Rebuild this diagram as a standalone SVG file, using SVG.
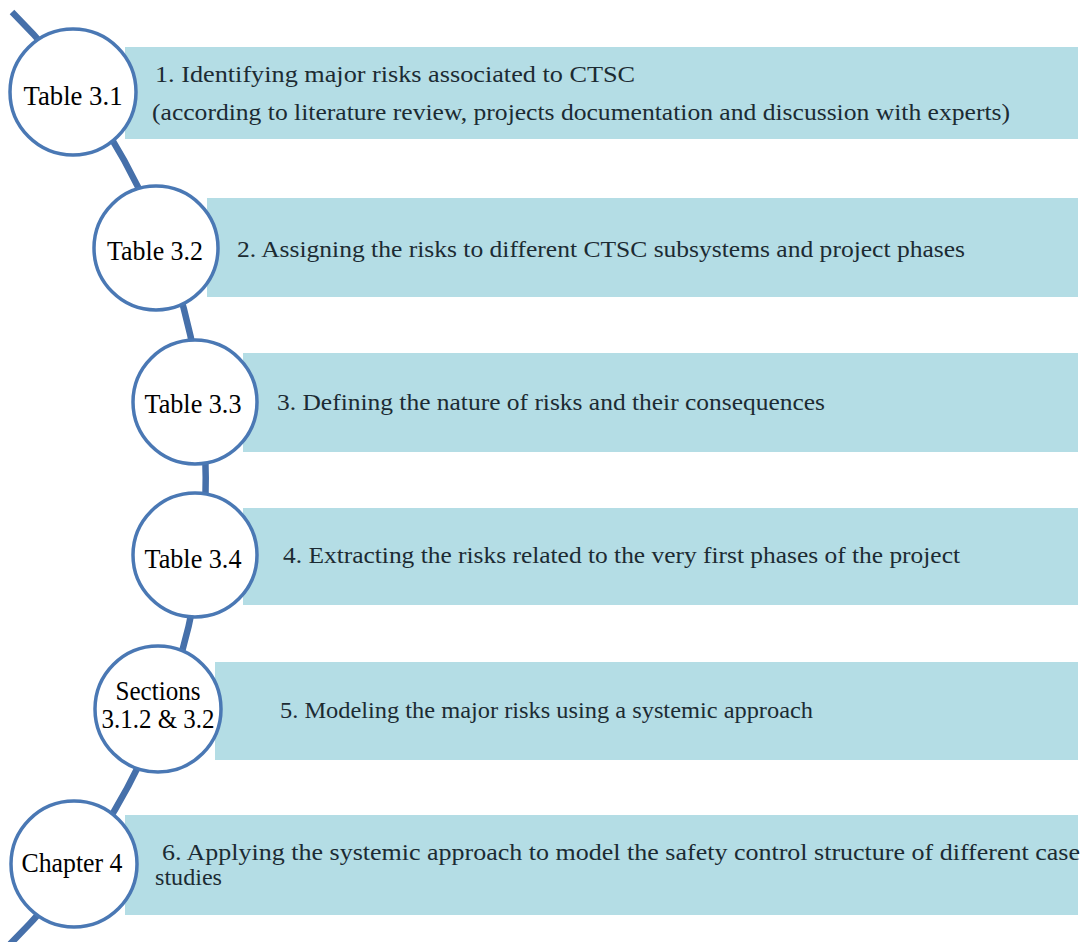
<svg xmlns="http://www.w3.org/2000/svg" width="1083" height="942" viewBox="0 0 1083 942">
<style>
.bar{fill:#b4dde5}
.c{fill:#ffffff;stroke:#4a78b4;stroke-width:3.5}
.lbl{font-size:27px;fill:#000;text-anchor:middle}
.t{font-size:23.5px;fill:#1c2b33}
</style>
<rect width="1083" height="942" fill="#ffffff"/>
<g id="bars">
<rect class="bar" x="125" y="47" width="953" height="92"/>
<rect class="bar" x="207" y="198" width="871" height="99"/>
<rect class="bar" x="243" y="353" width="835" height="99"/>
<rect class="bar" x="243" y="508" width="835" height="97"/>
<rect class="bar" x="215" y="662" width="863" height="98"/>
<rect class="bar" x="125" y="815" width="953" height="100"/>
</g>
<g id="connectors">
<path d="M 12 12 A 655 655 0 0 1 10 944" fill="none" stroke="#4670aa" stroke-width="6.5"/>
</g>
<g font-family="Liberation Serif, DejaVu Serif, serif">
<g id="n1">
<circle class="c" cx="73" cy="92" r="63"/>
<text class="lbl" x="73" y="105" textLength="99" lengthAdjust="spacingAndGlyphs">Table 3.1</text>
<text class="t" x="155" y="82" textLength="480" lengthAdjust="spacingAndGlyphs">1. Identifying major risks associated to CTSC</text>
<text class="t" x="152" y="120" textLength="858" lengthAdjust="spacingAndGlyphs">(according to literature review, projects documentation and discussion with experts)</text>
</g>
<g id="n2">
<circle class="c" cx="156" cy="248" r="62"/>
<text class="lbl" x="155" y="260" textLength="96" lengthAdjust="spacingAndGlyphs">Table 3.2</text>
<text class="t" x="237" y="257" textLength="728" lengthAdjust="spacingAndGlyphs">2. Assigning the risks to different CTSC subsystems and project phases</text>
</g>
<g id="n3">
<circle class="c" cx="195" cy="402" r="62"/>
<text class="lbl" x="193" y="413" textLength="97" lengthAdjust="spacingAndGlyphs">Table 3.3</text>
<text class="t" x="277" y="410" textLength="548" lengthAdjust="spacingAndGlyphs">3. Defining the nature of risks and their consequences</text>
</g>
<g id="n4">
<circle class="c" cx="195" cy="555" r="62"/>
<text class="lbl" x="193" y="568" textLength="97" lengthAdjust="spacingAndGlyphs">Table 3.4</text>
<text class="t" x="283" y="563" textLength="677" lengthAdjust="spacingAndGlyphs">4. Extracting the risks related to the very first phases of the project</text>
</g>
<g id="n5">
<circle class="c" cx="158" cy="709" r="63"/>
<text class="lbl" x="158" y="700" textLength="85" lengthAdjust="spacingAndGlyphs">Sections</text>
<text class="lbl" x="158" y="728" textLength="113" lengthAdjust="spacingAndGlyphs">3.1.2 &amp; 3.2</text>
<text class="t" x="280" y="718" textLength="533" lengthAdjust="spacingAndGlyphs">5. Modeling the major risks using a systemic approach</text>
</g>
<g id="n6">
<circle class="c" cx="74" cy="864" r="63"/>
<text class="lbl" x="72" y="872" textLength="101" lengthAdjust="spacingAndGlyphs">Chapter 4</text>
<text class="t" x="162" y="860" textLength="918" lengthAdjust="spacingAndGlyphs">6. Applying the systemic approach to model the safety control structure of different case</text>
<text class="t" x="155" y="885" textLength="67" lengthAdjust="spacingAndGlyphs">studies</text>
</g>
</g>
</svg>
